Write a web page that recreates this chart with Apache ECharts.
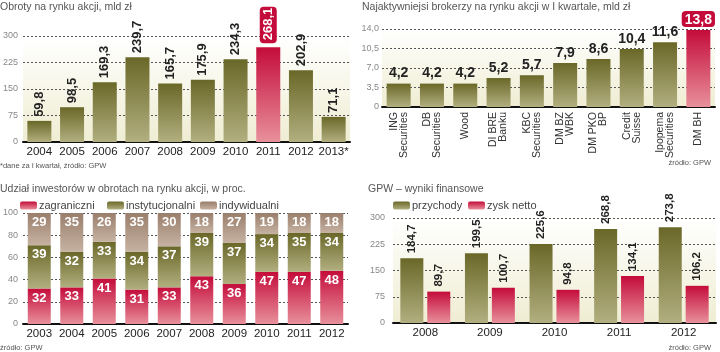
<!DOCTYPE html>
<html><head><meta charset="utf-8">
<script src="https://cdn.jsdelivr.net/npm/echarts@6/dist/echarts.min.js"></script>
<style>html,body{margin:0;padding:0;background:#fff}#c{width:720px;height:352px}</style>
</head><body><div id="c"></div>
<script>
// Panel 1
const years1 = ['2004','2005','2006','2007','2008','2009','2010','2011','2012','2013*'];
const obroty = [59.8, 98.5, 169.3, 239.7, 165.7, 175.9, 234.3, 268.1, 202.9, 71.1];
const y1Ticks = [0, 75, 150, 225, 300];
// Panel 2
const brokers = ['ING\nSecurities','DB\nSecurities','Wood','DI BRE\nBanku','KBC\nSecurities','DM BZ\nWBK','DM PKO\nBP','Credit\nSuisse','Ipopema\nSecurities','DM BH'];
const brokerVals = [4.2, 4.2, 4.2, 5.2, 5.7, 7.9, 8.6, 10.4, 11.6, 13.8];
const y2Ticks = [0, 3.5, 7.0, 10.5, 14.0];
// Panel 3
const years3 = ['2003','2004','2005','2006','2007','2008','2009','2010','2011','2012'];
const zagraniczni = [32, 33, 41, 31, 33, 43, 36, 47, 47, 48];
const instytucjonalni = [39, 32, 33, 34, 37, 39, 37, 34, 35, 34];
const indywidualni = [29, 35, 26, 35, 30, 18, 27, 19, 18, 18];
// Panel 4
const years4 = ['2008','2009','2010','2011','2012'];
const przychody = [184.7, 199.5, 225.6, 268.8, 273.8];
const zysk = [89.7, 100.7, 94.8, 134.1, 106.2];

const G = echarts.graphic.LinearGradient;
const olive = new G(0,0,0,1,[{offset:0,color:'#6a6828'},{offset:1,color:'#b2af80'}]);
const red = new G(0,0,0,1,[{offset:0,color:'#c40c3a'},{offset:1,color:'#e8909c'}]);
const brown = new G(0,0,0,1,[{offset:0,color:'#9a7e6c'},{offset:1,color:'#c6b2a2'}]);
const bg = () => new G(0,0,0,1,[{offset:0,color:'#ffffff'},{offset:1,color:'#efedd2'}]);
const fmt = v => String(v).replace('.', ',');
const fmt1 = v => v.toFixed(1).replace('.', ',');
const FONT = "'Liberation Sans', Arial, sans-serif";
const BOLD = "'Liberation Sans', Arial, sans-serif";

function yAxis(gi, max, interval, formatter, margin){
  return {gridIndex: gi, type:'value', min:0, max:max, interval:interval,
    axisLine:{show:false}, axisTick:{show:false},
    axisLabel:{color:'#888', fontSize:9, fontFamily:FONT, margin:margin, formatter:formatter},
    splitLine:{show:true, lineStyle:{color:'#555', type:[2,2], width:1}}};
}
function xAxis(gi, data, extra){
  return Object.assign({gridIndex: gi, type:'category', data:data,
    axisLine:{show:true, lineStyle:{color:'#111', width:2}}, axisTick:{show:false},
    axisLabel:{color:'#222', fontSize:11.5, fontFamily:FONT, margin:4, interval:0}}, extra||{});
}
function title(text, pos, size){
  return Object.assign({text:text, padding:0, textStyle:{fontSize:size, fontWeight:'normal', color:'#555', fontFamily:FONT}}, pos);
}
function leg(name, left, top){
  return {data:[name], left:left, top:top, padding:0, itemWidth:17, itemHeight:8, icon:'roundRect',
    textStyle:{fontSize:11, color:'#444', fontFamily:FONT, padding:[0,0,0,-3]}};
}

const option = {
  animation:false,
  backgroundColor:'#fff',
  title:[
    title('Obroty na rynku akcji, mld zł', {left:0, top:2}, 10.5),
    title('*dane za I kwartał, źródło: GPW', {left:0, top:162}, 7.5),
    title('Najaktywniejsi brokerzy na rynku akcji w I kwartale, mld zł', {left:362, top:2}, 10.5),
    title('źródło: GPW', {right:9, top:159}, 7.5),
    title('Udział inwestorów w obrotach na rynku akcji, w proc.', {left:0, top:184}, 10.5),
    title('źródło: GPW', {left:0, top:344}, 7.5),
    title('GPW – wyniki finansowe', {left:368, top:184}, 10.5),
    title('źródło: GPW', {right:9, top:344}, 7.5)
  ],
  legend:[
    leg('zagraniczni', 20, 200),
    leg('instytucjonalni', 107, 200),
    leg('indywidualni', 200, 200),
    leg('przychody', 393, 200),
    leg('zysk netto', 468, 200)
  ],
  grid:[
    {left:20, width:330, top:36, height:106, show:true, borderWidth:0, backgroundColor:bg()},
    {left:382, width:333, top:29, height:78, show:true, borderWidth:0, backgroundColor:bg()},
    {left:17, width:331, top:213, height:111, show:false},
    {left:393, width:323, top:218, height:105, show:true, borderWidth:0, backgroundColor:bg()}
  ],
  xAxis:[
    xAxis(0, years1, {}),
    xAxis(1, brokers, {axisLabel:{color:'#333', fontSize:10.5, fontFamily:FONT, rotate:90, interval:0, margin:5, lineHeight:10, align:'right'}}),
    xAxis(2, years3, {}),
    xAxis(3, years4, {})
  ],
  yAxis:[
    yAxis(0, 300, 75, v=>v, 5),
    yAxis(1, 14, 3.5, v=> v===0 ? '0' : fmt1(v), 3),
    yAxis(2, 100, 20, v=>v, 5),
    yAxis(3, 300, 75, v=>v, 8)
  ],
  series:[
    {type:'bar', xAxisIndex:0, yAxisIndex:0, barWidth:24,
     data: obroty.map((v,i)=> i===7 ? {value:v, itemStyle:{color:red},
        label:{backgroundColor:'#c40c3a', color:'#fff', borderRadius:4, padding:[3,1,1,3]}} : v),
     itemStyle:{color:olive},
     label:{show:true, position:'top', rotate:90, align:'left', verticalAlign:'middle', distance:4,
       fontSize:13, fontWeight:'bold', color:'#222', fontFamily:BOLD, formatter:p=>fmt(p.value)}},
    {type:'bar', xAxisIndex:1, yAxisIndex:1, barWidth:24,
     data: brokerVals.map((v,i)=> i===9 ? {value:v, itemStyle:{color:red},
        label:{backgroundColor:'#c40c3a', color:'#fff', borderRadius:4, padding:[2,3,0,3]}} : v),
     itemStyle:{color:olive},
     label:{show:true, position:'top', distance:3,
       fontSize:14, fontWeight:'bold', color:'#222', fontFamily:BOLD, formatter:p=>fmt(p.value)}},
    {name:'zagraniczni', type:'bar', stack:'s', xAxisIndex:2, yAxisIndex:2, barWidth:23, data:zagraniczni,
     itemStyle:{color:red},
     label:{show:true, position:'insideTop', distance:3, fontSize:13, fontWeight:'bold', color:'#fff', fontFamily:BOLD}},
    {name:'instytucjonalni', type:'bar', stack:'s', xAxisIndex:2, yAxisIndex:2, barWidth:23, data:instytucjonalni,
     itemStyle:{color:olive},
     label:{show:true, position:'insideTop', distance:3, fontSize:13, fontWeight:'bold', color:'#fff', fontFamily:BOLD}},
    {name:'indywidualni', type:'bar', stack:'s', xAxisIndex:2, yAxisIndex:2, barWidth:23, data:indywidualni,
     itemStyle:{color:brown},
     label:{show:true, position:'insideTop', distance:3, fontSize:13, fontWeight:'bold', color:'#fff', fontFamily:BOLD}},
    {name:'przychody', type:'bar', xAxisIndex:3, yAxisIndex:3, barWidth:23, barGap:'17%', data:przychody,
     itemStyle:{color:olive},
     label:{show:true, position:'top', rotate:90, align:'left', verticalAlign:'middle', distance:5,
       fontSize:11.5, fontWeight:'bold', color:'#222', fontFamily:BOLD, formatter:p=>fmt(p.value)}},
    {name:'zysk netto', type:'bar', xAxisIndex:3, yAxisIndex:3, barWidth:23, barGap:'17%', data:zysk,
     itemStyle:{color:red},
     label:{show:true, position:'top', rotate:90, align:'left', verticalAlign:'middle', distance:5,
       fontSize:11.5, fontWeight:'bold', color:'#222', fontFamily:BOLD, formatter:p=>fmt(p.value)}}
  ]
};
const chart = echarts.init(document.getElementById('c'), null, {renderer:'canvas'});
chart.setOption(option);
</script></body></html>
